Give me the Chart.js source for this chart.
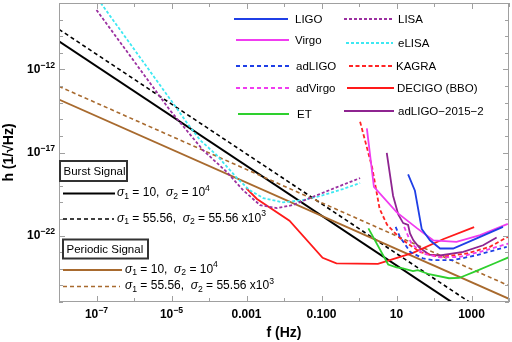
<!DOCTYPE html>
<html>
<head>
<meta charset="utf-8">
<script src="https://cdn.jsdelivr.net/npm/chart.js@4"></script>
<style>
  body { margin: 0; background: #fff; }
  #wrap { width: 512px; height: 342px; position: relative; }
</style>
</head>
<body>
<div id="wrap"><canvas id="c"></canvas></div>
<script>
// axis ticks (one per decade) and their labels: [base, superscript]
const xTicks = [1e-8, 1e-7, 1e-6, 1e-5, 1e-4, 1e-3, 1e-2, 1e-1, 1, 10, 100, 1e3, 1e4];
const xTickLabels = [null, ['10', '−7'], null, ['10', '−5'], null, ['0.001', ''], null,
                     ['0.100', ''], null, ['10', ''], null, ['1000', ''], null];
const yTicks = [1e-26, 1e-25, 1e-24, 1e-23, 1e-22, 1e-21, 1e-20, 1e-19, 1e-18, 1e-17,
                1e-16, 1e-15, 1e-14, 1e-13, 1e-12, 1e-11, 1e-10, 1e-9, 1e-8];
const yTickLabels = [null, null, null, null, ['10', '−22'], null, null, null, null, ['10', '−17'],
                     null, null, null, null, ['10', '−12'], null, null, null, null];

// detector curves (f in Hz, h in 1/sqrt(Hz))
const ligoF = [20.4, 31, 47, 78, 145, 324, 1700, 6900];
const ligoH = [4.8e-19, 5.0e-20, 2.5e-22, 5.2e-23, 1.66e-23, 1.66e-23, 8.3e-23, 3.3e-22];
const virgoF = [1.62, 2.5, 10.2, 35, 95, 398, 1700, 9300];
const virgoH = [2.8e-16, 8.5e-20, 2.5e-21, 2.8e-22, 5.2e-23, 4.2e-23, 1.05e-22, 5.0e-22];
const adLigoF = [9.5, 12.3, 23, 51, 95, 324, 1380, 8700];
const adLigoH = [3.3e-22, 8.3e-23, 1.05e-23, 4.2e-24, 3.3e-24, 3.3e-24, 6.6e-24, 2.1e-23];
const adVirgoF = [16, 25, 51, 145, 490, 1700, 9550];
const adVirgoH = [3.3e-22, 3.3e-23, 8.3e-24, 4.8e-24, 5.2e-24, 1.05e-23, 3.3e-23];
const etF = [1.78, 6.0, 10, 14.8, 27.5, 37, 74, 251, 468, 1318, 4467, 1e4];
const etH = [2.7e-22, 1.8e-24, 1.2e-24, 1.05e-24, 7.2e-25, 8.3e-25, 4.7e-25, 2.7e-25, 2.8e-25, 7.2e-25, 2.3e-24, 5.0e-24];
const lisaF = [1e-7, 9.1e-6, 6.9e-5, 3.0e-4, 8.1e-4, 2.3e-3, 6.5e-3, 1.7e-2, 7.6e-2, 0.26, 1.07];
const lisaH = [3.8e-9, 3.5e-15, 1.4e-17, 6.6e-19, 5.4e-20, 6.8e-21, 4.5e-21, 6.8e-21, 2.7e-20, 8.3e-20, 2.9e-19];
const elisaF = [1.3e-7, 1.5e-5, 2.6e-5, 5.8e-5, 1.6e-4, 5.6e-4, 1.2e-3, 2.8e-3, 9.3e-3, 3.2e-2, 0.11, 0.37, 1.07];
const elisaH = [1e-8, 3.5e-15, 5.9e-16, 5.6e-17, 6.9e-18, 2.9e-19, 5.4e-20, 1.8e-20, 1.0e-20, 1.35e-20, 2.7e-20, 6.3e-20, 1.45e-19];
const kagraF = [1.07, 2.24, 3.55, 5.6, 12.3, 43, 145, 741, 3090, 1.07e4];
const kagraH = [7.1e-16, 1.26e-18, 4.0e-21, 4.5e-22, 7.1e-23, 1.0e-23, 5.0e-24, 8.3e-24, 2.1e-23, 1.0e-22];
const decigoF = [9.8e-4, 1.9e-3, 1.4e-2, 0.107, 0.25, 3.2, 9.8, 27.5, 174, 1175];
const decigoH = [7.2e-20, 1.6e-20, 7.9e-22, 4.6e-24, 2.1e-24, 2.0e-24, 4.4e-24, 9.1e-24, 6.0e-23, 3.2e-22];
const ad2015F = [5.5, 8.1, 11.2, 15.1, 20.4, 22.9, 28.2, 40.7, 74, 145, 603, 2040, 4680];
const ad2015H = [9.5e-18, 2.5e-20, 1.8e-21, 5.6e-22, 4.3e-22, 1.35e-22, 5.2e-23, 1.9e-23, 7.2e-24, 6.3e-24, 1.05e-23, 2.6e-23, 7.6e-23];

// signal curves (straight lines in log-log)
const burst10F = [1e-8, 1e3];
const burst10H = [5.0e-11, 1.6e-27];
const burst55F = [1e-8, 1e4];
const burst55H = [2.6e-10, 2.6e-28];
const periodic10F = [1e-8, 1e4];
const periodic10H = [1.55e-14, 1.55e-26];
const periodic55F = [1e-8, 1e4];
const periodic55H = [9.5e-14, 9.5e-26];

const FONT = '"Liberation Sans", Arial, sans-serif';
const BROWN = '#a86a2e';

function pts(fs, hs) {
  return fs.map((f, i) => ({ x: f, y: hs[i] }));
}
function ds(label, fs, hs, color, dash, width) {
  return {
    label: label, data: pts(fs, hs), borderColor: color, backgroundColor: color,
    borderDash: dash || [], borderWidth: width || 1.8, showLine: true,
    pointRadius: 0, tension: 0, fill: false
  };
}

const datasets = [
  ds('LIGO', ligoF, ligoH, '#1f3fe6'),
  ds('Virgo', virgoF, virgoH, '#f03cf0'),
  ds('adLIGO', adLigoF, adLigoH, '#1f3fe6', [4, 3]),
  ds('adVirgo', adVirgoF, adVirgoH, '#f03cf0', [4, 3]),
  ds('ET', etF, etH, '#2ed02e'),
  ds('LISA', lisaF, lisaH, '#9b30a0', [3, 2]),
  ds('eLISA', elisaF, elisaH, '#3ee8f2', [3, 2]),
  ds('KAGRA', kagraF, kagraH, '#ff2424', [4, 2.5]),
  ds('DECIGO (BBO)', decigoF, decigoH, '#ff1a1a'),
  ds('adLIGO−2015−2', ad2015F, ad2015H, '#8e2490'),
  ds('periodic10', periodic10F, periodic10H, BROWN),
  ds('periodic55', periodic55F, periodic55H, BROWN, [4, 3], 1.6),
  ds('burst10', burst10F, burst10H, '#000000', [], 2),
  ds('burst55', burst55F, burst55H, '#000000', [4, 3], 1.6)
];

// legend layout: [dataset index, line x0, line x1, y, text x]
const topLegend = [
  [0, 234, 288, 19, 295], [1, 236, 289, 40, 295], [2, 236, 289, 66, 296],
  [3, 236, 289, 88, 296], [4, 238, 289, 114, 297],
  [5, 344, 393, 19, 398], [6, 346, 393, 43, 398], [7, 349, 394, 66, 396],
  [8, 347, 394, 88, 397], [9, 344, 394, 111, 398]
];

function rich(ctx, x, y, parts, size, weight) {
  const w = weight ? weight + ' ' : '';
  parts.forEach(([t, s]) => {
    let fs = size, dy = 0, style = '';
    if (s === 'sub') { fs = size * 0.72; dy = size * 0.3; }
    if (s === 'sup') { fs = size * 0.72; dy = -size * 0.4; }
    if (s === 'i') style = 'italic ';
    ctx.font = style + w + fs + 'px ' + FONT;
    ctx.fillText(t, x, y + dy);
    x += ctx.measureText(t).width;
  });
  return x;
}
function richWidth(ctx, parts, size, weight) {
  const w = weight ? weight + ' ' : '';
  let total = 0;
  parts.forEach(([t, s]) => {
    const fs = (s === 'sub' || s === 'sup') ? size * 0.72 : size;
    ctx.font = (s === 'i' ? 'italic ' : '') + w + fs + 'px ' + FONT;
    total += ctx.measureText(t).width;
  });
  return total;
}

function sample(ctx, d, x0, x1, y) {
  ctx.save();
  ctx.strokeStyle = d.borderColor;
  ctx.lineWidth = d.borderWidth;
  ctx.setLineDash(d.borderDash);
  ctx.beginPath();
  ctx.moveTo(x0, y);
  ctx.lineTo(x1, y);
  ctx.stroke();
  ctx.restore();
}

const decor = {
  id: 'decor',
  afterDraw(chart) {
    const { ctx, chartArea: a, scales: { x, y } } = chart;
    const sets = chart.data.datasets;
    ctx.save();
    // frame
    ctx.strokeStyle = '#a0a0a0';
    ctx.lineWidth = 1;
    ctx.strokeRect(a.left + 0.5, a.top + 0.5, a.right - a.left - 1, a.bottom - a.top - 1);
    // inward ticks on all four sides
    ctx.beginPath();
    x.ticks.forEach((t, i) => {
      const px = Math.round(x.getPixelForValue(t.value)) + 0.5;
      const len = xTickLabels[i] ? 6 : 4;
      ctx.moveTo(px, a.bottom); ctx.lineTo(px, a.bottom - len);
      ctx.moveTo(px, a.top); ctx.lineTo(px, a.top + len);
    });
    y.ticks.forEach((t, i) => {
      const py = Math.round(y.getPixelForValue(t.value)) + 0.5;
      const len = yTickLabels[i] ? 6 : 4;
      ctx.moveTo(a.left, py); ctx.lineTo(a.left + len, py);
      ctx.moveTo(a.right, py); ctx.lineTo(a.right - len, py);
    });
    ctx.stroke();

    // tick labels with real superscripts
    ctx.fillStyle = '#000';
    ctx.textBaseline = 'middle';
    ctx.textAlign = 'left';
    x.ticks.forEach((t, i) => {
      const lab = xTickLabels[i];
      if (!lab) return;
      const parts = [[lab[0], ''], [lab[1], 'sup']];
      const w = richWidth(ctx, parts, 12, 'bold');
      rich(ctx, x.getPixelForValue(t.value) - w / 2, 315, parts, 12, 'bold');
    });
    y.ticks.forEach((t, i) => {
      const lab = yTickLabels[i];
      if (!lab) return;
      const parts = [[lab[0], ''], [lab[1], 'sup']];
      const w = richWidth(ctx, parts, 12, 'bold');
      rich(ctx, a.left - 4 - w, y.getPixelForValue(t.value) + 0.5, parts, 12, 'bold');
    });

    // detector legend
    topLegend.forEach(([i, x0, x1, ly, tx]) => {
      sample(ctx, sets[i], x0, x1, ly);
      ctx.font = '11.5px ' + FONT;
      ctx.fillText(sets[i].label, tx, ly + 1);
    });

    // signal legend
    const boxes = [['Burst Signal', 60, 161, 67, 20], ['Periodic Signal', 63, 239.5, 85, 19]];
    boxes.forEach(([t, bx, by, bw, bh]) => {
      ctx.fillStyle = '#fff';
      ctx.fillRect(bx, by, bw, bh);
      ctx.strokeStyle = '#333';
      ctx.lineWidth = 2;
      ctx.strokeRect(bx, by, bw, bh);
      ctx.fillStyle = '#000';
      ctx.font = '11.5px ' + FONT;
      ctx.fillText(t, bx + 3.5, by + bh / 2 + 0.5);
    });
    const sig10 = [['σ', 'i'], ['1', 'sub'], [' = 10,  ', ''], ['σ', 'i'], ['2', 'sub'], [' = 10', ''], ['4', 'sup']];
    const sig55 = [['σ', 'i'], ['1', 'sub'], [' = 55.56,  ', ''], ['σ', 'i'], ['2', 'sub'], [' = 55.56 x10', ''], ['3', 'sup']];
    sample(ctx, sets[12], 63, 115, 193.5);
    rich(ctx, 117, 193, sig10, 12);
    sample(ctx, sets[13], 63, 114, 219);
    rich(ctx, 117, 218.5, sig55, 12);
    sample(ctx, sets[10], 63, 122, 270);
    rich(ctx, 125, 269.5, sig10, 12);
    sample(ctx, sets[11], 63, 120, 286.5);
    rich(ctx, 125, 286, sig55, 12);
    ctx.restore();
  }
};

new Chart(document.getElementById('c'), {
  type: 'scatter',
  data: { datasets: datasets },
  options: {
    responsive: true,
    maintainAspectRatio: false,
    animation: false,
    layout: { padding: { top: 3, right: 3, left: 0, bottom: 0 } },
    plugins: { legend: { display: false }, tooltip: { enabled: false } },
    scales: {
      x: {
        type: 'logarithmic', min: 1e-8, max: 1e4,
        afterFit: (s) => { s.height = 40; },
        afterBuildTicks: (s) => { s.ticks = xTicks.map(v => ({ value: v })); },
        grid: { display: false, drawTicks: false },
        border: { display: false },
        ticks: { display: false, autoSkip: false },
        title: { display: true, text: 'f (Hz)', color: '#000', padding: { top: 0, bottom: 0 },
                 font: { family: FONT, size: 14, weight: 'bold' } }
      },
      y: {
        type: 'logarithmic', min: 1e-26, max: 1e-8,
        afterFit: (s) => { s.width = 59; },
        afterBuildTicks: (s) => { s.ticks = yTicks.map(v => ({ value: v })); },
        grid: { display: false, drawTicks: false },
        border: { display: false },
        ticks: { display: false, autoSkip: false },
        title: { display: true, text: 'h (1/√Hz)', color: '#000', padding: { top: 1, bottom: 0 },
                 font: { family: FONT, size: 14, weight: 'bold' } }
      }
    }
  },
  plugins: [decor]
});
</script>
</body>
</html>
